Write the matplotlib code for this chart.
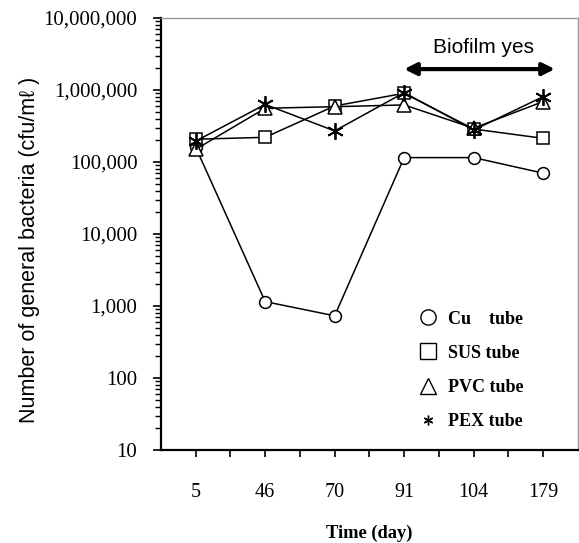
import numpy as np
import matplotlib
matplotlib.use("Agg")
import matplotlib.pyplot as plt
from matplotlib.lines import Line2D
from matplotlib.ticker import FuncFormatter, LogLocator, NullFormatter

# donnees
days = ["5", "46", "70", "91", "104", "179"]
cu = [160000, 1150, 730, 115000, 115000, 70000]
sus = [207000, 220000, 600000, 900000, 287000, 213000]
pvc = [150000, 557000, 586000, 620000, 295000, 690000]
pex = [195000, 630000, 270000, 918000, 278000, 807000]

series_names = ["Cu    tube", "SUS tube", "PVC tube", "PEX tube"]
biofilm_start = 3      # index du jour 91
biofilm_end = 5.17
biofilm_level = 1.95e6

serif = "Liberation Serif"
sans = "Liberation Sans"

fig = plt.figure(figsize=(5.79, 5.43), dpi=100)
ax = fig.add_axes([0.278, 0.1713, 0.72, 0.7956])

x = np.arange(len(days))
star = (6, 2, 0)

ax.plot(x, cu, color="black", lw=1.1, marker="o", ms=8.5, mfc="white", mec="black", mew=1.1, zorder=3)
ax.plot(x, sus, color="black", lw=1.1, marker="s", ms=8, mfc="white", mec="black", mew=1.1, zorder=3)
ax.plot(x, pvc, color="black", lw=1.1, marker="^", ms=9.5, mfc="white", mec="black", mew=1.1, zorder=3)
ax.plot(x, pex, color="black", lw=1.1, marker=star, ms=12, mfc="white", mec="black", mew=1.3, zorder=4)

ax.set_yscale("log")
ax.set_ylim(10, 1e7)
ax.set_xlim(-0.5, 5.5)

ax.yaxis.set_major_locator(LogLocator(base=10, numticks=10))
ax.yaxis.set_minor_locator(LogLocator(base=10, subs=np.arange(2, 10), numticks=10))
ax.yaxis.set_major_formatter(FuncFormatter(lambda v, p: f"{v:,.0f}"))
ax.yaxis.set_minor_formatter(NullFormatter())

ax.set_xticks(x)
ax.set_xticklabels(days)
ax.set_xticks(np.arange(0.5, 5.0, 1.0), minor=True)

ax.tick_params(axis="y", which="major", direction="out", length=6, width=1.2, pad=11, labelsize=15)
ax.tick_params(axis="y", which="minor", direction="out", length=4.3, width=1.0)
ax.tick_params(axis="x", which="both", direction="out", length=5, width=1.2, pad=19, labelsize=14.5)
for lab in ax.get_xticklabels() + ax.get_yticklabels():
    lab.set_fontfamily(serif)

for s in ["left", "bottom"]:
    ax.spines[s].set_linewidth(1.6)
    ax.spines[s].set_color("black")
for s in ["top", "right"]:
    ax.spines[s].set_linewidth(1.0)
    ax.spines[s].set_color("#999999")

ax.set_xlabel("Time (day)", fontfamily=serif, fontweight="bold", fontsize=13.3, labelpad=16)
ax.set_ylabel("Number of general bacteria (cfu/m\u2113 )", fontfamily=sans, fontsize=15.5)
ax.yaxis.set_label_coords(-0.29, 0.463)

# fleche biofilm
ax.annotate("", xy=(biofilm_end, biofilm_level), xytext=(biofilm_start, biofilm_level),
            arrowprops=dict(arrowstyle="<|-|>", color="black", lw=3, mutation_scale=18,
                            shrinkA=0, shrinkB=0))
ax.text((biofilm_start + biofilm_end) / 2 + 0.05, biofilm_level * 1.45, "Biofilm yes",
        ha="center", va="bottom", fontfamily=sans, fontsize=15)

handles = [
    Line2D([], [], ls="none", marker="o", ms=11, mfc="white", mec="black", mew=1.0),
    Line2D([], [], ls="none", marker="s", ms=11, mfc="white", mec="black", mew=1.0),
    Line2D([], [], ls="none", marker="^", ms=12, mfc="white", mec="black", mew=1.0),
    Line2D([], [], ls="none", marker=(6, 2, 0), ms=7, mfc="white", mec="black", mew=1.0),
]
ax.legend(handles, series_names, loc="upper left", bbox_to_anchor=(0.588, 0.352), frameon=False,
          prop=dict(family=serif, weight="bold", size=13), handlelength=1.0,
          handletextpad=0.6, labelspacing=0.95, borderpad=0.2)

fig.savefig("out.png", dpi=100)
